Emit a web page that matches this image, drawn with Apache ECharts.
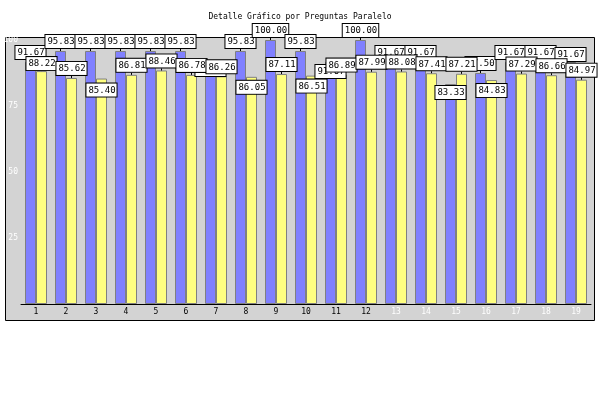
<!DOCTYPE html>
<html>
<head>
<meta charset="utf-8">
<script src="https://cdn.jsdelivr.net/npm/echarts@6/dist/echarts.min.js"></script>
<style>html,body{margin:0;padding:0;background:#fff}#c{width:600px;height:400px}</style>
</head>
<body>
<div id="c"></div>
<script>
var titleText = 'Detalle Gráfico por Preguntas Paralelo';
var categories = ['1','2','3','4','5','6','7','8','9','10','11','12','13','14','15','16','17','18','19'];
var seriesA = [91.67,95.83,95.83,95.83,95.83,95.83,91.67,95.83,100.00,95.83,91.67,100.00,91.67,91.67,83.33,87.50,91.67,91.67,91.67];
var seriesB = [88.22,85.62,85.40,86.81,88.46,86.78,86.26,86.05,87.11,86.51,86.89,87.99,88.08,87.41,87.21,84.83,87.29,86.66,84.97];
var yTicks = [25,50,75,100];
// label layout tweaks (vertical shifts in px) mimicking the reference's overlap handling
var shiftA = [0,0,0,0,0,0,17,0,0,0,19,0,0,0,18,0,0,0,2];
var shiftB = [2,0,21,0,0,0,0,20,0,20,0,0,0,0,0,20,0,0,0];

var chart = echarts.init(document.getElementById('c'), null, {renderer:'canvas'});
var labelStyle = {
  show: true, position: 'top', distance: 3,
  formatter: function(p){ return p.value.toFixed(2); },
  fontFamily: 'DejaVu Sans Mono', fontSize: 9, color: '#000',
  backgroundColor: '#fff', borderColor: '#000', borderWidth: 1,
  padding: [2, 1, 1, 2], lineHeight: 10
};
function mk(name, data, color, shift){
  return {
    name: name, type: 'bar', data: data, barWidth: 11, barGap: '0%',
    itemStyle: {color: color, borderColor: '#808080', borderWidth: 1},
    label: labelStyle,
    labelLine: {show: true, lineStyle: {color: '#000', width: 1}},
    labelLayout: function(p){ return {dy: shift[p.dataIndex]}; }
  };
}
chart.setOption({
  animation: false,
  backgroundColor: '#fff',
  title: {text: titleText, left: 'center', top: 8,
    textStyle: {fontFamily: 'DejaVu Sans Mono', fontSize: 8, fontWeight: 'normal', color: '#000'}},
  graphic: [{type: 'rect', z: -10, shape: {x: 5.5, y: 37.5, width: 589, height: 283},
    style: {fill: '#d3d3d3', stroke: '#000', lineWidth: 1}}],
  grid: {left: 21, right: 9, top: 40, bottom: 96},
  xAxis: {type: 'category', data: categories,
    axisLine: {lineStyle: {color: '#000'}},
    axisTick: {alignWithLabel: true, length: 3, lineStyle: {color: '#000'}},
    axisLabel: {fontFamily: 'DejaVu Sans Mono', fontSize: 8, margin: 4,
      color: function(v, i){ return i >= 12 ? '#fff' : '#000'; }}},
  yAxis: {type: 'value', min: 0, max: 100, interval: 25, z: 10,
    axisLine: {show: false}, axisTick: {show: false}, splitLine: {show: false},
    axisLabel: {fontFamily: 'DejaVu Sans Mono', fontSize: 8, color: '#fff', margin: 3,
      formatter: function(v){ return yTicks.indexOf(v) >= 0 ? String(v) : ''; }}},
  series: [mk('A', seriesA, '#8080ff', shiftA), mk('B', seriesB, '#ffff80', shiftB)]
});
</script>
</body>
</html>
